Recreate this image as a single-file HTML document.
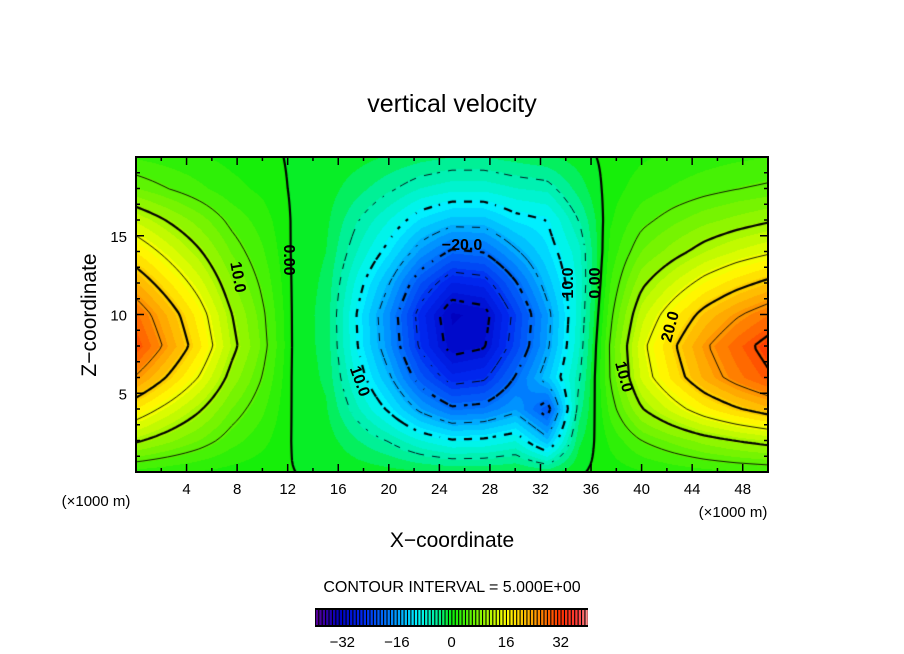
<!DOCTYPE html>
<html><head><meta charset="utf-8">
<style>
html,body{margin:0;padding:0;background:#fff;}
#wrap{position:relative;width:904px;height:654px;overflow:hidden;font-family:"Liberation Sans",sans-serif;}
canvas{position:absolute;}
svg{position:absolute;left:0;top:0;}
</style></head>
<body>
<div id="wrap">
<canvas id="field" width="632" height="315" style="left:136px;top:157px"></canvas>
<svg id="svg" width="904" height="654">
<text x="452" y="112" font-size="25" text-anchor="middle">vertical velocity</text>
<text transform="translate(96,315) rotate(-90)" font-size="21" text-anchor="middle">Z−coordinate</text>
<text x="452" y="547" font-size="21" text-anchor="middle">X−coordinate</text>
<text x="96" y="506" font-size="15" text-anchor="middle">(×1000 m)</text>
<text x="733" y="517" font-size="15" text-anchor="middle">(×1000 m)</text>
<text x="452" y="592" font-size="16" text-anchor="middle">CONTOUR INTERVAL = 5.000E+00</text>
<g id="axes"></g>
<g id="cbar"></g>
<g id="labels" font-size="16" font-weight="bold" text-anchor="middle">
<text transform="translate(233,278) rotate(80)">10.0</text>
<text transform="translate(284,260) rotate(90)">0.00</text>
<text x="462" y="250">−20.0</text>
<text transform="translate(355,383) rotate(70)">10.0</text>
<text transform="translate(573,283) rotate(-90)">10.0</text>
<text transform="translate(600,283) rotate(-90)">0.00</text>
<text transform="translate(619,378) rotate(75)">10.0</text>
<text transform="translate(675,328) rotate(-75)">20.0</text>
</g>
</svg>
</div>
<script>
// grid x coordinates (km) and z coordinates (km, top to bottom)
const xs = [0,2.5,5,7.5,10,12.5,15,17.5,20,22.5,25,27.5,30,32.5,35,37.5,40,42.5,45,47.5,50];
const zs = [20,18,16,14,12,10,8,6,4,2,0];
const row20 = [3,2.4,1.8,1.1,0.6,-0.3,-0.4,-1,-1.8,-2.6,-3.2,-3.2,-2.6,-2,-0.8,0.6,1.4,2,2.5,2.9,3.2];
const row18 = [6.5,5,3.6,2.2,1.2,-0.3,-0.8,-2.6,-4.5,-6.5,-7.5,-7.5,-6.5,-6,-2.5,0.9,2.4,3.4,4.2,4.9,5.4];
const row16 = [12.5,9.8,7.2,4.4,2.4,-0.3,-1.2,-4.8,-8,-11.5,-13.5,-13.5,-11,-10,-5,1.4,4.3,6,7.5,8.6,9.6];
const row14 = [17.5,13.9,10.3,6.3,3.4,-0.4,-1.6,-6.5,-11,-16.5,-20.5,-19.8,-15.5,-11.5,-7,2.2,6.5,8.9,11.2,13,14.4];
const row12 = [22.5,18,13.5,8.3,4.5,-0.4,-2,-8.7,-14.8,-22.4,-27.4,-26.6,-20.4,-13.7,-7.5,3.2,9.4,12.9,16.2,18.7,20.8];
const row10 = [27.6,22.1,16.6,10.2,5.5,-0.4,-2.3,-10.2,-17.5,-26.4,-32.3,-31.4,-24.1,-16.2,-7.2,4.3,12.2,16.9,21.2,24.5,27.2];
const row8  = [30,24,18,11.1,6,-0.4,-2.2,-9.9,-17,-25.6,-31.4,-30.4,-23.4,-15.7,-6.7,5.3,14.1,19.5,24.5,28.3,31.4];
const row6  = [24.6,19.7,14.8,9.1,4.9,-0.4,-1.9,-8.4,-14.4,-21.7,-26.6,-25.7,-19.8,-13.3,-5.5,5.1,13.2,18.2,22.9,26.5,29.4];
const row4  = [17.4,13.9,10.4,6.4,3.5,-0.3,-1.4,-6.1,-10.5,-15.8,-19.4,-18.8,-16,-22,-4,3.8,9.8,13.5,17,19.6,21.8];
const row2  = [10.5,8.4,6.3,3.9,2.1,-0.2,-0.7,-3.1,-5.2,-7.9,-9.7,-9.4,-8,-14,-2,2,5,6.9,8.7,10.1,11.2];
const row0  = [2.4,1.9,1.4,0.9,0.5,0,0,-0.5,-0.9,-1.3,-1.6,-1.6,-1.2,-2,-0.2,0.7,1.4,2,2.5,2.9,3.2];
const grid = [row20,row18,row16,row14,row12,row10,row8,row6,row4,row2,row0];
const contourLevels = [-30,-25,-20,-15,-10,-5,0,5,10,15,20,25,30];
const xTicks = [4,8,12,16,20,24,28,32,36,40,44,48];
const yTicks = [5,10,15];
const cbarTicks = [-32,-16,0,16,32];

const PX0=136, PY0=157, PW=632, PH=315, XMAX=50, ZMAX=20;
const sx = v => PX0 + v/XMAX*PW;
const sz = v => PY0 + PH - v/ZMAX*PH;

const stops = [[-40,[90,0,150]],[-33,[0,0,190]],[-26,[0,40,240]],[-18,[0,130,255]],[-10,[0,245,255]],[-4,[0,240,150]],[0,[10,238,10]],[8,[130,245,0]],[16,[255,255,0]],[24,[255,160,0]],[32,[255,50,0]],[37,[255,60,60]],[40,[255,150,150]]];
function cmap(v){
  if(v<=stops[0][0]) return stops[0][1];
  for(let i=1;i<stops.length;i++){
    if(v<=stops[i][0]){const a=stops[i-1],b=stops[i];const t=(v-a[0])/(b[0]-a[0]);
      return [0,1,2].map(k=>Math.round(a[1][k]+(b[1][k]-a[1][k])*t));}
  }
  return stops[stops.length-1][1];
}
function val(x,z){
  const dx=xs[1]-xs[0], dzs=zs[0]-zs[1];
  let fi=Math.min(Math.max(x/dx,0),xs.length-1.0001);
  let fj=Math.min(Math.max((zs[0]-z)/dzs,0),zs.length-1.0001);
  const i=Math.floor(fi),j=Math.floor(fj),tx=fi-i,tz=fj-j;
  const a=grid[j][i],b=grid[j][i+1],c=grid[j+1][i],d=grid[j+1][i+1];
  return (a*(1-tx)+b*tx)*(1-tz)+(c*(1-tx)+d*tx)*tz;
}
const cv=document.getElementById('field'),ctx=cv.getContext('2d');
const img=ctx.createImageData(PW,PH);
for(let py=0;py<PH;py++)for(let px=0;px<PW;px++){
  const v=val(px/PW*XMAX,(PH-py)/PH*ZMAX);
  const q=Math.floor(v/1.6)*1.6+0.8;
  const c=cmap(q);const k=(py*PW+px)*4;
  img.data[k]=c[0];img.data[k+1]=c[1];img.data[k+2]=c[2];img.data[k+3]=255;
}
ctx.putImageData(img,0,0);
const ST=4;
const nx=Math.ceil(PW/ST)+1,ny=Math.ceil(PH/ST)+1;
const F=[];
for(let j=0;j<ny;j++){F.push([]);for(let i=0;i<nx;i++){F[j].push(val(Math.min(i*ST,PW)/PW*XMAX,(PH-Math.min(j*ST,PH))/PH*ZMAX));}}
contourLevels.forEach(L=>{
  ctx.beginPath();
  ctx.lineWidth=(L%10===0)?2.2:0.9;
  ctx.strokeStyle='#000';
  for(let j=0;j<ny-1;j++)for(let i=0;i<nx-1;i++){
    if(L<0 && ((i>>1)+(j>>1))%2===1) continue;
    const p=[[i,j,F[j][i]],[i+1,j,F[j][i+1]],[i+1,j+1,F[j+1][i+1]],[i,j+1,F[j+1][i]]];
    const pts=[];
    for(let e=0;e<4;e++){const A=p[e],B=p[(e+1)%4];
      if((A[2]-L)*(B[2]-L)<0){const t=(L-A[2])/(B[2]-A[2]);pts.push([(A[0]+(B[0]-A[0])*t)*ST,(A[1]+(B[1]-A[1])*t)*ST]);}}
    for(let k=0;k+1<pts.length;k+=2){ctx.moveTo(pts[k][0],pts[k][1]);ctx.lineTo(pts[k+1][0],pts[k+1][1]);}
  }
  ctx.stroke();
});
const NS='http://www.w3.org/2000/svg';
function el(tag,attrs,parent){const e=document.createElementNS(NS,tag);for(const k in attrs)e.setAttribute(k,attrs[k]);parent.appendChild(e);return e;}
const axes=document.getElementById('axes');
const frame=el('rect',{x:PX0,y:PY0,width:PW,height:PH,fill:'none',stroke:'#000','stroke-width':2},axes);


for(let v=2;v<XMAX;v+=2){
  const len=(v%4===0)?8:4;
  el('line',{x1:sx(v),x2:sx(v),y1:PY0,y2:PY0+len,stroke:'#000','stroke-width':1.5},axes);
  el('line',{x1:sx(v),x2:sx(v),y1:PY0+PH,y2:PY0+PH-len,stroke:'#000','stroke-width':1.5},axes);
}
for(let v=1;v<ZMAX;v++){
  const len=(v%5===0)?8:4;
  el('line',{x1:PX0,x2:PX0+len,y1:sz(v),y2:sz(v),stroke:'#000','stroke-width':1.5},axes);
  el('line',{x1:PX0+PW,x2:PX0+PW-len,y1:sz(v),y2:sz(v),stroke:'#000','stroke-width':1.5},axes);
}
xTicks.forEach(v=>{const t=el('text',{x:sx(v),y:494,'font-size':15,'text-anchor':'middle'},axes);t.textContent=v;
  
  });
yTicks.forEach(v=>{const t=el('text',{x:127,y:sz(v)+6,'font-size':15,'text-anchor':'end'},axes);t.textContent=v;
  
  });
const cb=document.getElementById('cbar');
const CX0=315,CX1=588,CY=608,CH=19;
const cx=v=>CX0+(v+40)/80*(CX1-CX0);
const cbBg=el('rect',{x:CX0,y:CY,width:CX1-CX0,height:CH,fill:'#000'},cb);


for(let v=-40;v<40;v++){
  const c=cmap(v+0.5);
  el('rect',{x:cx(v)+0.9,y:CY+2,width:(CX1-CX0)/80-1.1,height:CH-4,fill:'rgb('+c.join(',')+')'},cb);
}
cbarTicks.forEach(v=>{const t=el('text',{x:cx(v),y:647,'font-size':15,'text-anchor':'middle'},cb);t.textContent=(v<0?'−'+(-v):v);
  
  });
</script>
</body></html>
